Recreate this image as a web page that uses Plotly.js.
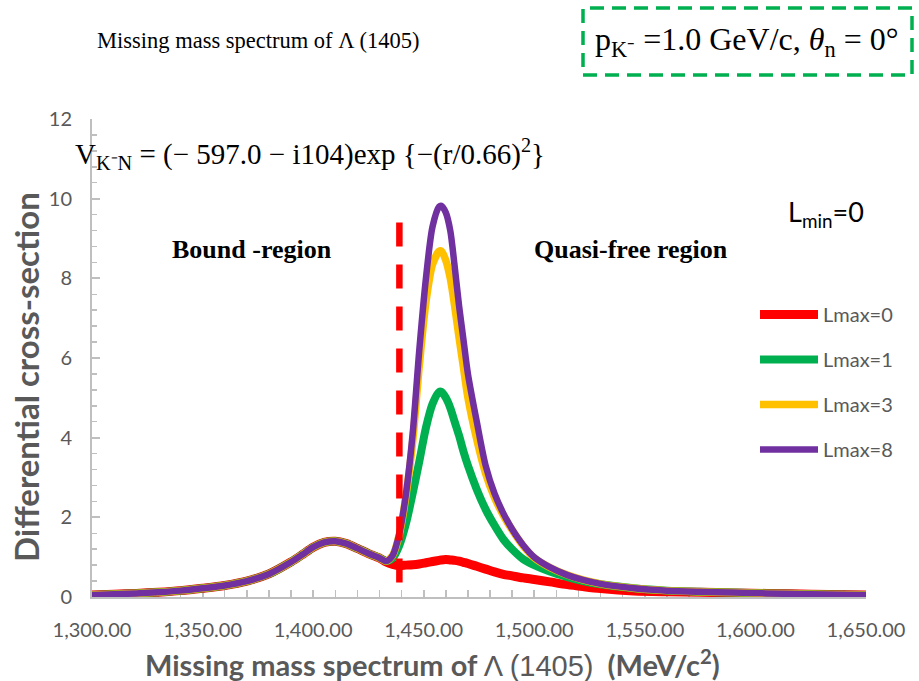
<!DOCTYPE html>
<html>
<head>
<meta charset="utf-8">
<script src="https://cdn.plot.ly/plotly-3.0.1.min.js"></script>
<style>html,body{margin:0;padding:0;background:#fff;}#chart{width:919px;height:681px;}</style>
</head>
<body>
<div id="chart"></div>
<script>
// Missing mass (MeV/c^2)
const massMeV = [1300,1310,1320,1330,1340,1350,1360,1370,1380,1390,1395,1400,1405,1410,1415,1420,1425,1430,1433,1436,1439,1442,1445,1448,1451,1454,1457,1458,1460,1462,1464,1466,1468,1470,1474,1478,1482,1486,1490,1495,1500,1507,1515,1522,1530,1545,1560,1575,1590,1605,1625,1650];
const seriesNames = ["Lmax=0","Lmax=1","Lmax=3","Lmax=8"];
const lmax0 = [0.05,0.07,0.09,0.12,0.16,0.22,0.29,0.40,0.58,0.88,1.06,1.25,1.37,1.40,1.34,1.22,1.09,0.98,0.88,0.82,0.79,0.80,0.81,0.83,0.86,0.89,0.92,0.93,0.94,0.93,0.92,0.90,0.87,0.84,0.77,0.70,0.63,0.57,0.53,0.48,0.44,0.38,0.31,0.26,0.21,0.15,0.13,0.12,0.10,0.09,0.07,0.05];
const lmax1 = [0.05,0.07,0.09,0.12,0.16,0.22,0.29,0.40,0.58,0.88,1.06,1.25,1.37,1.40,1.34,1.22,1.09,0.98,0.90,0.98,1.30,1.85,2.60,3.40,4.25,4.85,5.15,5.15,5.00,4.75,4.40,4.05,3.65,3.30,2.70,2.20,1.80,1.45,1.20,0.95,0.80,0.64,0.50,0.40,0.32,0.22,0.16,0.13,0.11,0.09,0.07,0.05];
const lmax3 = [0.05,0.07,0.09,0.12,0.16,0.22,0.29,0.40,0.58,0.88,1.06,1.25,1.37,1.40,1.34,1.22,1.09,0.98,0.90,1.05,1.58,2.55,3.90,5.80,7.40,8.35,8.68,8.68,8.45,8.00,7.30,6.50,5.75,5.00,3.95,3.10,2.50,2.05,1.68,1.28,0.98,0.74,0.55,0.43,0.33,0.22,0.16,0.13,0.11,0.09,0.07,0.05];
const lmax8 = [0.05,0.07,0.09,0.12,0.16,0.22,0.29,0.40,0.58,0.88,1.06,1.25,1.37,1.40,1.34,1.22,1.09,0.98,0.90,1.05,1.60,2.60,4.10,6.20,8.00,9.30,9.80,9.82,9.65,9.20,8.30,7.30,6.45,5.60,4.40,3.30,2.60,2.10,1.70,1.30,1.00,0.75,0.55,0.43,0.33,0.22,0.16,0.13,0.11,0.09,0.07,0.05];
// threshold marker (dashed vertical line)
const thresholdX = [1439,1439];
const thresholdY = [9.4,0.23];

const colors = ["#ff0000","#00b050","#ffc000","#7030a0"];
const widths = [9,8,7.5,6.5];
const ys = [lmax0,lmax1,lmax3,lmax8];

const traces = ys.map((y,i)=>({
  x: massMeV, y: y, type:"scatter", mode:"lines", name: seriesNames[i],
  legendgroup: "g"+i,
  line:{color:colors[i], width:widths[i], shape:"spline", smoothing:0.8},
  hoverinfo:"skip"
}));
traces.push({
  x: thresholdX, y: thresholdY, type:"scatter", mode:"lines", showlegend:false,
  line:{color:"#ff0000", width:6.5, dash:"24px,18px"}, hoverinfo:"skip"
});

// pixel -> paper helpers (plot area 92..866 x 119..597)
const PL=92, PR=866, PT=119, PB=597;
const px = v => (v-PL)/(PR-PL);
const py = v => (PB-v)/(PB-PT);

const gray = "#595959";
const axisGray = "#bfbfbf";
function ann(x,y,text,font,extra){
  return Object.assign({xref:"paper", yref:"paper", x:px(x), y:py(y), showarrow:false, text:text, font:font, xanchor:"center", yanchor:"middle"}, extra||{});
}
const serif = "Liberation Serif, Times New Roman, serif";
const sans = "Lato, sans-serif";
const layout = {
  width:919, height:681,
  margin:{l:PL, r:919-PR, t:PT, b:681-PB},
  paper_bgcolor:"#ffffff", plot_bgcolor:"#ffffff",
  showlegend:true,
  legend:{x:px(755), y:py(295), xanchor:"left", yanchor:"top",
    font:{family:sans, size:20, color:gray}, itemwidth:58, tracegroupgap:16,
    bgcolor:"rgba(0,0,0,0)"},
  xaxis:{range:[1300,1650], dtick:50, tick0:1300, tickformat:",.2f", layer:"below traces",
    showline:true, linecolor:axisGray, linewidth:2, showgrid:false, zeroline:false,
    ticks:"inside", ticklen:7, tickcolor:axisGray, tickwidth:2,
    minor:{dtick:10, ticks:"inside", ticklen:7, tickcolor:axisGray, tickwidth:1.5},
    tickfont:{family:sans, size:20, color:gray}, ticklabelstandoff:14},
  yaxis:{range:[0,12], dtick:2, showline:true, linecolor:axisGray, linewidth:2, showgrid:false, zeroline:false, layer:"below traces",
    ticks:"inside", ticklen:8, tickcolor:axisGray, tickwidth:2,
    minor:{dtick:0.4, ticks:"inside", ticklen:5, tickcolor:axisGray, tickwidth:1.5},
    tickfont:{family:sans, size:20, color:gray}, ticklabelstandoff:14},
  annotations:[
    ann(95,40,"Missing mass spectrum of Λ (1405)",{family:serif, size:22.5, color:"#000"},{xanchor:"left"}),
    ann(593,42,"p<sub>K⁻</sub> =1.0 GeV/c, <i>θ</i><sub>n</sub> = 0°",{family:serif, size:32, color:"#000"},{xanchor:"left"}),
    ann(73,154,"V<sub>K⁻N</sub> = (− 597.0 − i104)exp {−(r/0.66)<sup>2</sup>}",{family:serif, size:29, color:"#000"},{xanchor:"left"}),
    ann(252,249,"<b>Bound -region</b>",{family:serif, size:26, color:"#000"}),
    ann(631,249,"<b>Quasi-free region</b>",{family:serif, size:26, color:"#000"}),
    ann(826,213,"L<sub>min</sub>=0",{family:sans, size:27, color:"#000"}),
    ann(432,663,"<b>Missing mass spectrum of </b><span style=\"font-family:'Liberation Sans'\">Λ (1405)</span><b>  (MeV/c<sup>2</sup>)</b>",{family:sans, size:29, color:gray}),
    ann(26,377,"<b>Differential cross-section</b>",{family:sans, size:33, color:gray},{textangle:-90})
  ],
  shapes:[
    {type:"rect", xref:"paper", yref:"paper", x0:px(583), x1:px(912), y0:py(75), y1:py(8),
     line:{color:"#00b050", width:3.5, dash:"14px,8px"}, fillcolor:"rgba(0,0,0,0)"}
  ]
};
Plotly.newPlot("chart", traces, layout, {displayModeBar:false, staticPlot:true});
</script>
</body>
</html>
